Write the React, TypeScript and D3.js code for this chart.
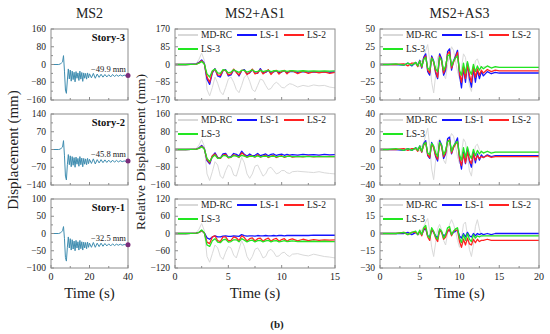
import React from "react";
import * as d3 from "d3";

// sample times (s)
const T_MS2 = [0, 4, 5, 5.5, 6, 6.5, 7, 7.5, 8, 8.5, 9, 9.5, 10, 10.5, 11, 11.5, 12, 12.5, 13, 13.5, 14, 14.5, 15, 15.5, 16, 16.5, 17, 17.5, 18, 18.5, 19, 19.5, 20, 21, 22, 23, 24, 25, 26, 27, 28, 29, 30, 31, 32, 33, 34, 35, 36, 37, 38, 39, 40];
const T_AS1 = [0, 1, 2, 2.25, 2.5, 2.75, 3, 3.25, 3.5, 3.75, 4, 4.25, 4.5, 4.75, 5, 5.25, 5.5, 5.75, 6, 6.25, 6.5, 6.75, 7, 7.25, 7.5, 7.75, 8, 8.25, 8.5, 8.75, 9, 9.25, 9.5, 9.75, 10, 10.25, 10.5, 10.75, 11, 11.5, 12, 12.5, 13, 13.5, 14, 14.5, 15];
const T_AS3 = [0, 1, 2, 3, 3.5, 4, 4.5, 4.75, 5, 5.25, 5.5, 5.75, 6, 6.25, 6.5, 6.75, 7, 7.25, 7.5, 7.75, 8, 8.25, 8.5, 8.75, 9, 9.25, 9.5, 9.75, 10, 10.25, 10.5, 10.75, 11, 11.25, 11.5, 11.75, 12, 12.25, 12.5, 12.75, 13, 13.5, 14, 14.5, 15, 16, 17, 18, 19, 20];

// MS2 (mm)
const MS2_S3 = [0, 0, 3, 8, 12, 40, -30, -115, -130, -70, -20, -65, -25, -75, -30, -68, -35, -78, -32, -62, -38, -72, -30, -66, -36, -76, -38, -62, -40, -66, -38, -60, -42,
  -60, -40, -62, -43, -58, -44, -57, -45, -56, -46, -56, -45, -54, -47, -53, -47, -52, -48, -51, -49.9];
const MS2_S2 = [0, 0, 2, 7, 10, 35, -25, -105, -120, -60, -20, -60, -25, -68, -28, -62, -32, -70, -30, -58, -35, -66, -28, -60, -34, -68, -35, -58, -37, -60, -35, -56, -39,
  -55, -37, -57, -40, -53, -40, -52, -41, -51, -42, -51, -42, -50, -43, -49, -44, -48, -45, -47, -45.8];
const MS2_S1 = [0, 0, 2, 5, 8, 20, -15, -70, -80, -40, -10, -42, -15, -48, -18, -45, -22, -50, -20, -42, -24, -48, -20, -44, -24, -48, -25, -42, -26, -44, -25, -40, -28,
  -40, -26, -40, -28, -38, -28, -37, -29, -36, -30, -36, -30, -35, -31, -34, -31, -34, -32, -33, -32.5];
const MS2_FINAL = [-49.9, -45.8, -32.5];

// MS2+AS1 relative displacement (mm)
const AS1_S3_MDRC = [0, 0, 5, 25, 55, 20, -120, -150, -110, -60, -90, -130, -145, -110, -70, -60, -85, -120, -135, -100, -60, -50, -80, -120, -130, -100, -70, -75, -100, -120, -115, -95, -85, -95, -110, -112, -100, -92, -95, -108, -100, -105, -98, -102, -100, -108, -112];
const AS1_S3_LS1 = [0, 0, 3, 10, 22, 5, -70, -95, -40, -20, -55, -60, -30, -25, -55, -50, -25, -35, -55, -30, -25, -45, -40, -25, -40, -42, -20, -40, -38, -28, -42, -35, -30, -40, -36, -30, -40, -34, -33, -38, -34, -37, -35, -37, -35, -37, -36];
const AS1_S3_LS2 = [0, 0, 2, 8, 18, 3, -60, -85, -35, -22, -50, -52, -28, -28, -50, -45, -22, -38, -50, -28, -28, -48, -38, -22, -45, -40, -25, -45, -35, -25, -48, -32, -28, -46, -34, -28, -45, -32, -30, -44, -32, -42, -34, -40, -35, -42, -38];
const AS1_S3_LS3 = [0, 0, 2, 6, 14, 2, -45, -60, -30, -22, -40, -42, -25, -28, -40, -36, -25, -32, -38, -28, -28, -36, -32, -26, -34, -33, -28, -34, -31, -28, -34, -30, -29, -33, -31, -29, -33, -31, -30, -32, -30, -32, -31, -32, -31, -32, -31];

const AS1_S2_MDRC = [0, 0, 5, 20, 45, 15, -110, -140, -100, -55, -70, -120, -130, -95, -70, -80, -115, -120, -80, -35, -60, -110, -130, -110, -75, -70, -95, -120, -110, -85, -80, -95, -110, -105, -95, -95, -105, -108, -100, -98, -100, -102, -104, -100, -105, -108, -110];
const AS1_S2_LS1 = [0, 0, 2, 8, 18, 5, -50, -65, -30, -15, -35, -40, -20, -18, -35, -32, -18, -22, -30, -8, -22, -30, -20, -28, -26, -18, -28, -24, -20, -28, -22, -20, -27, -23, -21, -26, -22, -25, -23, -25, -22, -24, -23, -25, -22, -24, -23];
const AS1_S2_LS2 = [0, 0, 2, 6, 15, 3, -45, -60, -28, -20, -38, -40, -25, -22, -38, -35, -24, -28, -36, -15, -25, -35, -28, -30, -34, -24, -34, -30, -26, -36, -30, -27, -36, -31, -28, -35, -31, -29, -34, -31, -33, -30, -33, -31, -32, -31, -32];
const AS1_S2_LS3 = [0, 0, 2, 5, 12, 2, -40, -55, -35, -25, -40, -38, -28, -28, -36, -34, -28, -30, -34, -26, -30, -34, -31, -30, -33, -29, -33, -31, -30, -33, -31, -30, -33, -31, -31, -33, -31, -31, -32, -32, -31, -32, -32, -32, -32, -32, -32];

const AS1_S1_MDRC = [0, 0, 3, 15, 35, 10, -80, -100, -70, -40, -50, -80, -90, -65, -45, -50, -75, -85, -55, -25, -45, -80, -95, -80, -55, -50, -65, -85, -80, -60, -55, -65, -80, -78, -68, -65, -75, -80, -72, -70, -75, -78, -72, -76, -80, -82, -85];
const AS1_S1_LS1 = [0, 0, 1, 4, 10, 2, -15, -20, -12, -8, -12, -12, -9, -8, -10, -10, -8, -9, -10, -4, -7, -9, -8, -8, -9, -7, -8, -8, -7, -8, -8, -7, -8, -7, -7, -8, -7, -7, -7, -7, -7, -7, -6, -6, -6, -6, -6];
const AS1_S1_LS2 = [0, 0, 1, 4, 10, 2, -30, -35, -12, -8, -25, -28, -12, -12, -26, -24, -12, -15, -25, -8, -14, -26, -18, -15, -26, -18, -16, -27, -20, -16, -27, -20, -17, -27, -21, -18, -27, -21, -19, -26, -20, -25, -21, -24, -22, -23, -22];
const AS1_S1_LS3 = [0, 0, 1, 4, 12, 2, -40, -45, -25, -18, -30, -32, -22, -20, -30, -28, -22, -22, -29, -18, -23, -29, -25, -23, -29, -25, -24, -29, -26, -24, -29, -26, -25, -29, -27, -25, -28, -27, -26, -28, -27, -28, -27, -28, -27, -28, -28];

// MS2+AS3 relative displacement (mm)
const AS3_S3_MDRC = [0, 0, 0, 1, -1, 1, 0, 2, -3, 5, 10, 20, 28, 5, -25, -40, -15, 10, 15, 5, -15, -20, 0, 15, 25, 20, 5, -10, -20, -5, 15, 10, -10, -30, -38, -15, 5, 8, 0, -5, -3, -3, -4, -4, -4, -4, -4, -4, -4, -4];
const AS3_S3_LS1 = [0, 0, 0, -1, 2, -2, 3, -2, 6, -5, 10, 15, -10, -15, 12, 5, -12, -20, 15, 8, -15, -8, 18, 22, -8, 5, 12, 20, -15, -33, -5, -25, 2, -20, -32, -5, -25, -8, -20, -10, -16, -10, -13, -11, -12, -12, -12, -12, -12, -12];
const AS3_S3_LS2 = [0, 0, 0, 1, -2, 2, 2, -3, 5, -4, 8, 12, -8, -12, 10, 3, -10, -18, 12, 5, -12, -5, 15, 18, -5, 3, 10, 17, -12, -25, -3, -20, 0, -15, -25, -3, -18, -6, -15, -8, -12, -7, -10, -8, -9, -9, -9, -9, -9, -9];
const AS3_S3_LS3 = [0, 0, 1, -1, 2, -1, 3, -2, 5, -3, 7, 10, -5, -8, 9, 4, -6, -10, 10, 6, -8, -2, 12, 14, -2, 5, 9, 12, -8, -15, 2, -12, 4, -8, -14, 0, -10, -2, -8, -3, -6, -2, -5, -3, -4, -4, -4, -4, -4, -4];

const AS3_S2_MDRC = [0, 0, 0, 1, -1, 1, 0, 2, -2, 4, 8, 16, 24, 4, -22, -34, -12, 8, 12, 4, -12, -16, 0, 12, 18, 15, 4, -8, -16, -4, 12, 8, -8, -24, -30, -12, 4, 6, 0, -4, -3, -3, -3, -3, -3, -3, -3, -3, -3, -3];
const AS3_S2_LS1 = [0, 0, 0, -1, 1, -1, 2, -1, 4, -3, 7, 10, -7, -10, 8, 3, -8, -13, 10, 5, -10, -5, 12, 14, -5, 3, 8, 13, -10, -22, -3, -16, 1, -13, -20, -3, -15, -5, -12, -6, -9, -6, -8, -7, -7, -7, -7, -7, -7, -7];
const AS3_S2_LS2 = [0, 0, 0, 1, -1, 1, 1, -2, 3, -3, 5, 8, -6, -9, 6, 2, -7, -11, 8, 3, -8, -4, 9, 11, -4, 2, 6, 9, -10, -18, -5, -15, -3, -12, -16, -5, -12, -7, -10, -8, -9, -7, -9, -8, -8, -8, -8, -8, -8, -8];
const AS3_S2_LS3 = [0, 0, 1, -1, 1, -1, 2, -1, 4, -2, 6, 8, -4, -6, 7, 4, -4, -8, 8, 5, -6, -1, 9, 10, -2, 4, 7, 9, -6, -12, 2, -9, 3, -6, -10, 0, -7, -1, -5, -2, -4, -2, -4, -3, -3, -3, -3, -3, -3, -3];

const AS3_S1_MDRC = [0, 0, 0, 0, 1, -1, 0, 1, -1, 3, 6, 10, 13, 2, -12, -20, -8, 4, 8, 3, -6, -10, 0, 8, 12, 8, 2, -6, -12, -4, 8, 10, -2, -14, -20, -10, 6, 12, 4, -3, -2, -2, -2, -2, -2, -2, -2, -2, -2, -2];
const AS3_S1_LS1 = [0, 0, 0, 0, 1, -1, 1, -1, 2, -1, 3, 4, -2, -3, 3, 1, -2, -4, 3, 1, -2, -1, 2, 3, -1, 1, 2, 3, -2, -4, 0, -3, 1, -2, -3, 0, -2, 0, -1, 0, -1, 0, -1, 0, 0, 0, 0, 0, 0, 0];
const AS3_S1_LS2 = [0, 0, 0, 1, -1, 1, 1, -1, 2, -2, 4, 5, -3, -6, 4, 1, -4, -7, 3, 1, -5, -3, 2, 4, -2, 2, 3, 3, -7, -12, -5, -10, -4, -9, -10, -5, -8, -5, -7, -6, -6, -5, -6, -6, -6, -6, -6, -6, -6, -6];
const AS3_S1_LS3 = [0, 0, 0, 1, -1, 1, 2, -1, 3, -1, 5, 7, -2, -4, 5, 2, -3, -5, 4, 2, -4, -1, 5, 6, -1, 2, 4, 5, -4, -8, -1, -6, 0, -5, -7, -1, -4, -2, -3, -2, -2, -2, -2, -2, -2, -2, -2, -2, -2, -2];

const STORIES = ["Story-3", "Story-2", "Story-1"];
const LEGEND_NAMES = ["MD-RC", "LS-1", "LS-2", "LS-3"];

const COLORS: Record<string, string> = {
  "MD-RC": "#d9d9d9",
  "LS-1": "#1414ff",
  "LS-2": "#ff2222",
  "LS-3": "#22e622",
};
const MS2_COLOR = "#3f8db0";
const FONT = "'Liberation Serif', 'DejaVu Serif', serif";

const ROWS = [
  { top: 29, bottom: 100 },
  { top: 114, bottom: 185 },
  { top: 199, bottom: 268 },
];
const COLS = [
  { left: 51, right: 128 },
  { left: 175, right: 335 },
  { left: 380, right: 539 },
];

const fmt = (v: number) => (v < 0 ? "\u2212" + Math.abs(v) : String(v));

type Line = { name: string; values: number[] };

function Panel(props: {
  id: string;
  col: number;
  row: number;
  xMax: number;
  xStep: number;
  xMinorStep: number;
  yMax: number;
  times: number[];
  lines: Line[];
  lineColor?: (n: string) => string;
  strokeW: (n: string) => number;
  children?: (x: d3.ScaleLinear<number, number>, y: d3.ScaleLinear<number, number>) => React.ReactNode;
}) {
  const { left, right } = COLS[props.col];
  const { top, bottom } = ROWS[props.row];
  const x = d3.scaleLinear().domain([0, props.xMax]).range([left, right]);
  const y = d3.scaleLinear().domain([-props.yMax, props.yMax]).range([bottom, top]);
  const yStep = props.yMax / 2;
  const yTicks = d3.range(-props.yMax, props.yMax + 1e-6, yStep);
  const yMinor = d3.range(-props.yMax + yStep / 2, props.yMax, yStep);
  const xTicks = d3.range(0, props.xMax + 1e-6, props.xStep);
  const xMinor = d3
    .range(0, props.xMax + 1e-6, props.xMinorStep)
    .filter((v) => Math.abs(v / props.xStep - Math.round(v / props.xStep)) > 1e-6);
  const path = d3
    .line<[number, number]>()
    .x((d) => x(d[0]))
    .y((d) => y(d[1]));
  const showX = props.row === 2;
  const axisCol = "#8c8c8c";
  return (
    <g>
      <clipPath id={props.id}>
        <rect x={left} y={top} width={right - left} height={bottom - top} />
      </clipPath>
      <g clipPath={`url(#${props.id})`}>
        {props.lines.map((l) => {
          const pts = props.times
            .map((t, i) => [t, l.values[i]] as [number, number])
            .filter((p) => p[1] !== undefined);
          return (
            <path
              key={l.name}
              d={path(pts) || ""}
              fill="none"
              stroke={props.lineColor ? props.lineColor(l.name) : COLORS[l.name]}
              strokeWidth={props.strokeW(l.name)}
              strokeLinejoin="round"
            />
          );
        })}
      </g>
      <rect x={left} y={top} width={right - left} height={bottom - top} fill="none" stroke={axisCol} strokeWidth={1} />
      {yTicks.map((v) => (
        <g key={"y" + v}>
          <line x1={left} x2={left + 3} y1={y(v)} y2={y(v)} stroke={axisCol} />
          <text x={left - 5} y={y(v)} textAnchor="end" dominantBaseline="central" fontSize={9.5} fill="#222">
            {fmt(v)}
          </text>
        </g>
      ))}
      {yMinor.map((v) => (
        <line key={"ym" + v} x1={left} x2={left + 2} y1={y(v)} y2={y(v)} stroke={axisCol} />
      ))}
      {xTicks.map((v) => (
        <g key={"x" + v}>
          <line x1={x(v)} x2={x(v)} y1={bottom} y2={bottom - 3} stroke={axisCol} />
          {showX && (
            <text x={x(v)} y={bottom + 12} textAnchor="middle" fontSize={10} fill="#222">
              {v}
            </text>
          )}
        </g>
      ))}
      {xMinor.map((v) => (
        <line key={"xm" + v} x1={x(v)} x2={x(v)} y1={bottom} y2={bottom - 2} stroke={axisCol} />
      ))}
      {props.children && props.children(x, y)}
    </g>
  );
}

function Legend({ col, row }: { col: number; row: number }) {
  const { left } = COLS[col];
  const { top } = ROWS[row];
  const pos = [
    { dx: 3, r: 0 },
    { dx: 62, r: 0 },
    { dx: 109, r: 0 },
    { dx: 3, r: 1 },
  ];
  return (
    <g>
      {LEGEND_NAMES.map((n, i) => {
        const yy = top + 6 + pos[i].r * 14;
        const x0 = left + pos[i].dx;
        return (
          <g key={n}>
            <line x1={x0} x2={x0 + 20} y1={yy} y2={yy} stroke={COLORS[n]} strokeWidth={2} />
            <text x={x0 + 23} y={yy} dominantBaseline="central" fontSize={9.5} fill="#222">
              {n}
            </text>
          </g>
        );
      })}
    </g>
  );
}

export default function App() {
  const ms2 = [MS2_S3, MS2_S2, MS2_S1];
  const ms2Max = [160, 140, 100];
  const as1 = [
    [AS1_S3_MDRC, AS1_S3_LS1, AS1_S3_LS2, AS1_S3_LS3],
    [AS1_S2_MDRC, AS1_S2_LS1, AS1_S2_LS2, AS1_S2_LS3],
    [AS1_S1_MDRC, AS1_S1_LS1, AS1_S1_LS2, AS1_S1_LS3],
  ];
  const as1Max = [170, 160, 120];
  const as3 = [
    [AS3_S3_MDRC, AS3_S3_LS1, AS3_S3_LS2, AS3_S3_LS3],
    [AS3_S2_MDRC, AS3_S2_LS1, AS3_S2_LS2, AS3_S2_LS3],
    [AS3_S1_MDRC, AS3_S1_LS1, AS3_S1_LS2, AS3_S1_LS3],
  ];
  const as3Max = [50, 40, 30];
  const colCenter = (c: number) => (COLS[c].left + COLS[c].right) / 2;
  const lsWidth = (n: string) => (n === "MD-RC" ? 1 : 1.3);

  return (
    <svg
      width={550}
      height={334}
      style={{ position: "absolute", left: 0, top: 0, background: "#fff" }}
      fontFamily={FONT}
    >
      {["MS2", "MS2+AS1", "MS2+AS3"].map((t, c) => (
        <text key={t} x={colCenter(c)} y={18} textAnchor="middle" fontSize={14} fill="#222">
          {t}
        </text>
      ))}
      {[0, 1, 2].map((c) => (
        <text key={"tx" + c} x={colCenter(c)} y={298} textAnchor="middle" fontSize={15} fill="#222">
          Time (s)
        </text>
      ))}
      <text transform="translate(18,150) rotate(-90)" textAnchor="middle" fontSize={15} fill="#222">
        Displacement (mm)
      </text>
      <text transform="translate(145,152) rotate(-90)" textAnchor="middle" fontSize={13.5} fill="#222">
        Relative Displacement (mm)
      </text>
      <text x={277} y={328} textAnchor="middle" fontSize={11} fontWeight="bold" fill="#222">
        (b)
      </text>

      {ms2.map((vals, r) => (
        <Panel
          key={"ms2" + r}
          id={"c0" + r}
          col={0}
          row={r}
          xMax={40}
          xStep={20}
          xMinorStep={10}
          yMax={ms2Max[r]}
          times={T_MS2}
          lines={[{ name: "MS2", values: vals }]}
          lineColor={() => MS2_COLOR}
          strokeW={() => 1}
        >
          {(x, y) => (
            <g>
              <text x={125} y={ROWS[r].top + 12} textAnchor="end" fontSize={10.5} fontWeight="bold" fill="#111">
                {STORIES[r]}
              </text>
              <text x={126} y={y(MS2_FINAL[r]) - 4} textAnchor="end" fontSize={8.5} fill="#222">
                {fmt(MS2_FINAL[r]) + " mm"}
              </text>
              <circle cx={x(40)} cy={y(MS2_FINAL[r])} r={2.5} fill="#7b2d7b" />
            </g>
          )}
        </Panel>
      ))}

      {as1.map((set, r) => (
        <g key={"as1" + r}>
          <Panel
            id={"c1" + r}
            col={1}
            row={r}
            xMax={15}
            xStep={5}
            xMinorStep={2.5}
            yMax={as1Max[r]}
            times={T_AS1}
            lines={set.map((v, i) => ({ name: LEGEND_NAMES[i], values: v }))}
            strokeW={lsWidth}
          />
          <Legend col={1} row={r} />
        </g>
      ))}

      {as3.map((set, r) => (
        <g key={"as3" + r}>
          <Panel
            id={"c2" + r}
            col={2}
            row={r}
            xMax={20}
            xStep={5}
            xMinorStep={2.5}
            yMax={as3Max[r]}
            times={T_AS3}
            lines={set.map((v, i) => ({ name: LEGEND_NAMES[i], values: v }))}
            strokeW={lsWidth}
          />
          <Legend col={2} row={r} />
        </g>
      ))}
    </svg>
  );
}
